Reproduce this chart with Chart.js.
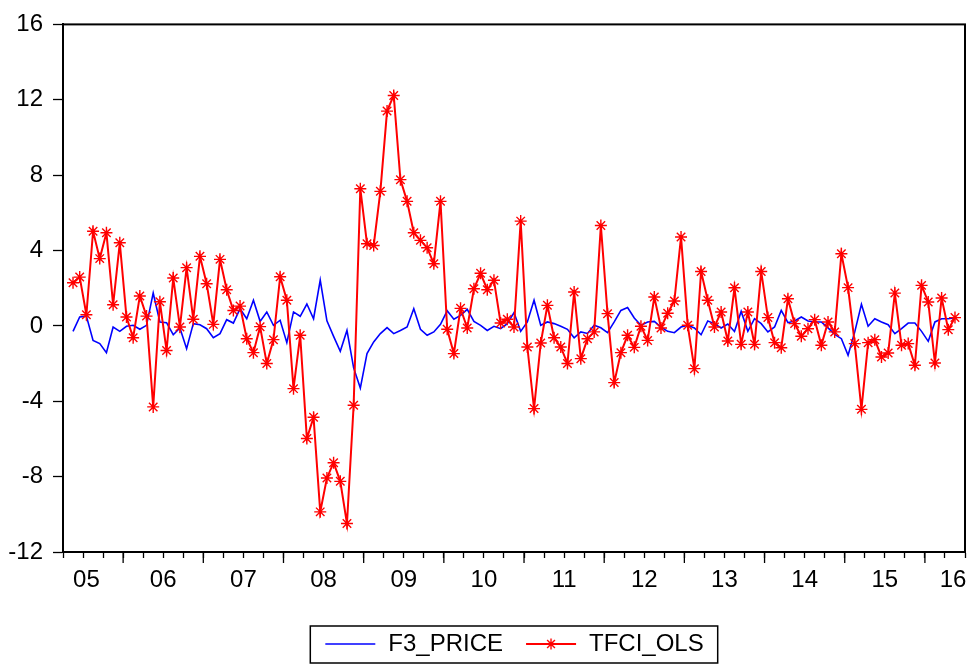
<!DOCTYPE html>
<html>
<head>
<meta charset="utf-8">
<title>F3_PRICE / TFCI_OLS</title>
<script src="https://cdn.jsdelivr.net/npm/chart.js@4.4.1/dist/chart.umd.min.js"></script>
<style>
    html, body { margin: 0; padding: 0; background: #fff; }
    canvas { display: block; }
</style>
</head>
<body>
<canvas id="myChart" width="973" height="666"></canvas>
<script>
// monthly data, first observation 2005M05
var startMonth = 5;
var yearLabels = ['05', '06', '07', '08', '09', '10', '11', '12', '13', '14', '15', '16'];
var seriesNames = ['F3_PRICE', 'TFCI_OLS'];

var f3Price = [
    -0.29, 0.47, 0.52, -0.77, -0.94, -1.42, -0.06, -0.29, -0.02, 0.03,
    -0.18, 0.03, 1.74, 0.21, 0.17, -0.47, -0.11, -1.21, 0.12, 0.06,
    -0.15, -0.63, -0.41, 0.33, 0.15, 0.91, 0.38, 1.36, 0.24, 0.74,
    0.03, 0.30, -0.89, 0.74, 0.51, 1.16, 0.38, 2.43, 0.27, -0.56,
    -1.35, -0.24, -2.23, -3.30, -1.47, -0.85, -0.41, -0.09, -0.41, -0.24,
    -0.06, 0.91, -0.18, -0.50, -0.32, 0.08, 0.80, 0.35, 0.56, 0.88,
    0.24, 0.03, -0.24, -0.02, -0.15, 0.12, 0.70, -0.29, 0.21, 1.36,
    0.03, 0.21, 0.12, -0.02, -0.18, -0.63, -0.32, -0.40, 0.03, -0.10,
    -0.36, 0.21, 0.82, 0.97, 0.42, 0.03, 0.21, 0.24, -0.06, -0.29,
    -0.36, -0.06, 0.03, -0.11, -0.47, 0.26, 0.12, -0.11, 0.10, -0.30,
    0.77, -0.29, 0.38, 0.12, -0.32, -0.06, 0.82, 0.17, 0.26, 0.47,
    0.26, 0.21, 0.21, -0.11, -0.45, -0.68, -1.56, -0.32, 1.15, -0.02,
    0.38, 0.21, 0.06, -0.41, -0.15, 0.15, 0.15, -0.29, -0.82, 0.21,
    0.38, 0.38, 0.44
];

var tfciOls = [
    2.29, 2.59, 0.59, 5.02, 3.57, 4.94, 1.12, 4.41, 0.47, -0.63,
    1.59, 0.52, -4.30, 1.28, -1.31, 2.54, -0.06, 3.09, 0.35, 3.69,
    2.24, 0.08, 3.53, 1.92, 0.82, 1.05, -0.68, -1.42, -0.04, -2.00,
    -0.73, 2.61, 1.36, -3.33, -0.50, -5.98, -4.85, -9.87, -8.07, -7.26,
    -8.25, -10.49, -4.21, 7.28, 4.36, 4.27, 7.14, 11.40, 12.23, 7.76,
    6.61, 4.94, 4.54, 4.15, 3.30, 6.61, -0.18, -1.47, 0.93, -0.11,
    1.97, 2.79, 1.92, 2.42, 0.15, 0.35, -0.06, 5.56, -1.12, -4.39,
    -0.91, 1.09, -0.63, -1.12, -2.00, 1.80, -1.74, -0.68, -0.32, 5.33,
    0.65, -3.01, -1.42, -0.50, -1.14, -0.02, -0.77, 1.53, -0.11, 0.67,
    1.32, 4.72, 0.03, -2.27, 2.89, 1.36, -0.06, 0.74, -0.80, 2.02,
    -0.98, 0.74, -0.98, 2.89, 0.44, -0.89, -1.16, 1.44, 0.12, -0.55,
    -0.15, 0.33, -1.03, 0.21, -0.32, 3.83, 2.03, -0.94, -4.43, -0.89,
    -0.73, -1.65, -1.44, 1.74, -1.03, -0.94, -2.09, 2.15, 1.27, -1.97,
    1.48, -0.20, 0.44
];

var yTicks = [-12, -8, -4, 0, 4, 8, 12, 16];

// x = months since Jan 2005, each observation in the middle of its month
function toPoints(values) {
    return values.map(function(v, i) {
        return { x: startMonth - 1 + i + 0.5, y: v };
    });
}

var xMin = startMonth - 2;                         // 2005-04-01
var xMax = startMonth - 1 + f3Price.length + 1;    // 2016-07-01

// year labels in the middle of the year, pulled inside for the partial ends
function yearLabelPos(k) {
    var p = 12 * k + 6;
    if (p < xMin + 3.5) p = xMin + 3.5;
    if (p > xMax - 1.8) p = xMax - 1.8;
    return p;
}

function isQuarter(v) {
    return Math.abs(v / 3 - Math.round(v / 3)) < 1e-6;
}

// legend sample: 12px blank lead-in (gap between items), then the 50px line
var LEAD = 12;
function legendImage(color, withStar) {
    var c = document.createElement('canvas');
    c.width = LEAD + 52;
    c.height = 16;
    var g = c.getContext('2d');
    var x0 = LEAD + 1, xc = LEAD + 26;
    g.strokeStyle = color;
    g.lineWidth = withStar ? 2 : 1.6;
    g.beginPath();
    g.moveTo(x0, 8);
    g.lineTo(x0 + 50, 8);
    g.stroke();
    if (withStar) {
        var r = 5.5, d = r * Math.SQRT1_2;
        g.lineWidth = 1.4;
        g.beginPath();
        g.moveTo(xc - r, 8); g.lineTo(xc + r, 8);
        g.moveTo(xc, 8 - r); g.lineTo(xc, 8 + r);
        g.moveTo(xc - d, 8 - d); g.lineTo(xc + d, 8 + d);
        g.moveTo(xc - d, 8 + d); g.lineTo(xc + d, 8 - d);
        g.stroke();
    }
    return c;
}

var legendImages = [legendImage('#0000ff', false), legendImage('#ff0000', true)];

// box frame, long yearly ticks and the legend border
var framePlugin = {
    id: 'frame',
    afterLayout: function(chart) {
        // nudge the legend row a little to the left, like the original
        chart.legend.left -= 6;
        chart.legend.right -= 6;
    },
    afterDraw: function(chart) {
        var ctx = chart.ctx;
        var a = chart.chartArea;
        var xs = chart.scales.x;
        ctx.save();
        ctx.strokeStyle = '#000';
        ctx.lineWidth = 2;
        ctx.strokeRect(a.left, a.top, a.right - a.left, a.bottom - a.top);

        ctx.lineWidth = 1.3;
        for (var m = 12; m < xMax; m += 12) {
            if (m <= xMin) continue;
            var px = xs.getPixelForValue(m);
            ctx.beginPath();
            ctx.moveTo(px, a.bottom);
            ctx.lineTo(px, a.bottom + 11);
            ctx.stroke();
        }

        var boxes = chart.legend.legendHitBoxes;
        if (boxes && boxes.length) {
            var l = Infinity, r = -Infinity, t = Infinity, b = -Infinity;
            boxes.forEach(function(h) {
                l = Math.min(l, h.left);
                r = Math.max(r, h.left + h.width);
                t = Math.min(t, h.top);
                b = Math.max(b, h.top + h.height);
            });
            l += LEAD;
            ctx.lineWidth = 1.5;
            ctx.strokeRect(l - 14, t - 6, r - l + 28, b - t + 13);
        }
        ctx.restore();
    }
};

Chart.defaults.font.family = '"Liberation Sans", Arial, sans-serif';
Chart.defaults.font.size = 24;
Chart.defaults.color = '#000';

var ctx = document.getElementById('myChart').getContext('2d');
var chart = new Chart(ctx, {
    type: 'line',
    data: {
        datasets: [{
            label: seriesNames[0],
            data: toPoints(f3Price),
            borderColor: '#0000ff',
            borderWidth: 1.6,
            pointRadius: 0,
            tension: 0,
            order: 1
        }, {
            label: seriesNames[1],
            data: toPoints(tfciOls),
            borderColor: '#ff0000',
            borderWidth: 2,
            pointStyle: 'star',
            pointRadius: 6,
            pointBorderWidth: 1.4,
            pointBorderColor: '#ff0000',
            pointBackgroundColor: '#ff0000',
            tension: 0,
            order: 0
        }]
    },
    options: {
        responsive: false,
        animation: false,
        devicePixelRatio: 1,
        layout: { padding: { top: 22, right: 6, left: 0, bottom: 0 } },
        plugins: {
            tooltip: { enabled: false },
            legend: {
                position: 'bottom',
                fullSize: false,
                labels: {
                    usePointStyle: true,
                    pointStyleWidth: LEAD + 52,
                    padding: 10,
                    font: { size: 24 },
                    generateLabels: function(chart) {
                        return chart.data.datasets.map(function(ds, i) {
                            return {
                                text: ds.label,
                                pointStyle: legendImages[i],
                                datasetIndex: i,
                                hidden: false,
                                fontColor: '#000',
                                lineWidth: 0,
                                strokeStyle: 'rgba(0,0,0,0)',
                                fillStyle: 'rgba(0,0,0,0)'
                            };
                        });
                    }
                }
            }
        },
        scales: {
            x: {
                type: 'linear',
                min: xMin,
                max: xMax,
                afterFit: function(scale) { scale.height = 70; },
                afterBuildTicks: function(scale) {
                    var ticks = [];
                    for (var v = xMin; v <= xMax; v += 3) ticks.push({ value: v });
                    yearLabels.forEach(function(lab, k) {
                        var p = yearLabelPos(k);
                        var found = ticks.some(function(t) { return Math.abs(t.value - p) < 1e-6; });
                        if (!found) ticks.push({ value: p });
                    });
                    ticks.sort(function(a, b) { return a.value - b.value; });
                    scale.ticks = ticks;
                },
                ticks: {
                    autoSkip: false,
                    maxRotation: 0,
                    minRotation: 0,
                    padding: 8,
                    font: { size: 24 },
                    callback: function(value) {
                        for (var k = 0; k < yearLabels.length; k++) {
                            if (Math.abs(yearLabelPos(k) - value) < 1e-6) return yearLabels[k];
                        }
                        return '';
                    }
                },
                grid: {
                    drawOnChartArea: false,
                    tickLength: 6,
                    tickWidth: 1.3,
                    tickColor: function(c) {
                        return (c.tick && isQuarter(c.tick.value)) ? '#000' : 'rgba(0,0,0,0)';
                    }
                },
                border: { display: true, color: '#000', width: 2 }
            },
            y: {
                min: -12,
                max: 16,
                afterFit: function(scale) { scale.width = 63; },
                afterBuildTicks: function(scale) {
                    scale.ticks = yTicks.map(function(v) { return { value: v }; });
                },
                ticks: {
                    padding: 10,
                    font: { size: 24 }
                },
                grid: {
                    drawOnChartArea: false,
                    tickLength: 10,
                    tickWidth: 1.3,
                    tickColor: '#000'
                },
                border: { display: true, color: '#000', width: 2 }
            }
        }
    },
    plugins: [framePlugin]
});
</script>
</body>
</html>
